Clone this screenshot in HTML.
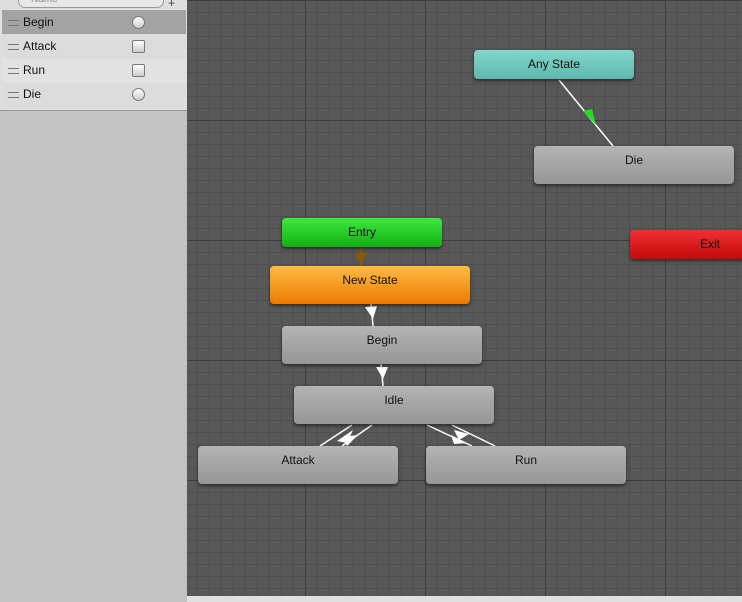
<!DOCTYPE html>
<html><head><style>
body{margin:0;width:742px;height:602px;overflow:hidden;font-family:"Liberation Sans",sans-serif;font-size:12px;position:relative;background:#c2c2c2}
#grid{position:absolute;left:187px;top:0;width:555px;height:596px;background-color:#585858;
background-image:linear-gradient(90deg,#3e3e3e 1px,transparent 1px),linear-gradient(#3e3e3e 1px,transparent 1px),linear-gradient(90deg,#4f4f4f 1px,transparent 1px),linear-gradient(#4f4f4f 1px,transparent 1px);
background-size:120px 120px,120px 120px,12px 12px,12px 12px;background-position:-2px 0,0 0,-2px 0,0 0}
.n{position:absolute;height:38px;border-radius:4px;box-shadow:0 2px 3px rgba(0,0,0,.5);text-align:center;line-height:28px;color:#111;font-size:12px}
.g{background:linear-gradient(#b4b4b4,#969696)}
.row{position:absolute;left:2px;width:184px;height:24px;line-height:24px;font-size:12px;color:#111}
.row span.h{position:absolute;left:6px;top:10px;width:11px;height:4px;border-top:1px solid #777;border-bottom:1px solid #777}
.row .t{position:absolute;left:21px}
.c{position:absolute;left:130px;top:6px;width:11px;height:11px;border:1px solid #777;border-radius:50%;background:linear-gradient(#fff,#ccc)}
.s{position:absolute;left:130px;top:6px;width:11px;height:11px;border:1px solid #777;border-radius:2px;background:linear-gradient(#fff,#ccc)}
</style></head><body>
<div style="position:absolute;left:0;top:0;width:187px;height:110px;background:#dedede;border-bottom:1px solid #999"></div>
<div style="position:absolute;left:18px;top:-8px;width:132px;height:14px;border:1px solid #999;border-radius:7px;background:#e8e8e8;font-size:10px;color:#888;line-height:14px;padding-left:12px">Name</div>
<div style="position:absolute;left:168px;top:-4px;font-size:12px;color:#444">+</div>
<div class="row" style="top:10px;background:#a3a3a3"><span class="h"></span><span class="t">Begin</span><span class="c"></span></div>
<div class="row" style="top:34px;background:#dcdcdc"><span class="h"></span><span class="t">Attack</span><span class="s"></span></div>
<div class="row" style="top:58px;background:#e2e2e2"><span class="h"></span><span class="t">Run</span><span class="s"></span></div>
<div class="row" style="top:82px;background:#dcdcdc"><span class="h"></span><span class="t">Die</span><span class="c"></span></div>
<div id="grid"></div>
<div style="position:absolute;left:187px;top:596px;width:555px;height:6px;background:#e0e0e0"></div>
<svg style="position:absolute;left:0;top:0" width="742" height="602">
<g stroke="#fff" stroke-width="1.5">
<line x1="559" y1="80" x2="613" y2="146"/>
<line x1="371" y1="304" x2="373" y2="326"/>
<line x1="381" y1="364" x2="383" y2="386"/>
<line x1="320" y1="446" x2="352" y2="425"/>
<line x1="342" y1="446" x2="372" y2="425"/>
<line x1="427" y1="425" x2="472" y2="446"/>
<line x1="452" y1="425" x2="495" y2="446"/>
</g>
<line x1="361" y1="246" x2="361" y2="266" stroke="#8a5a00" stroke-width="2"/>
<polygon points="583,111 596,125 592,109" fill="#22dd22"/>
<polygon points="355,253 367,253 361,265" fill="#8a5a00"/>
<polygon points="365,307 377,306 373,319" fill="#fff"/>
<polygon points="376,367 388,367 383,379" fill="#fff"/>
<polygon points="337,441 353,430 347,443" fill="#fff"/>
<polygon points="343,437 358,435 347,446" fill="#fff"/>
<polygon points="451,435 467,443 454,444" fill="#fff"/>
<polygon points="454,430 469,434 459,440" fill="#fff"/>
</svg>
<div class="n" style="left:474px;top:50px;width:160px;height:29px;background:linear-gradient(#82d6cc,#5fb8ad)">Any State</div>
<div class="n g" style="left:534px;top:146px;width:200px">Die</div>
<div class="n" style="left:282px;top:218px;width:160px;height:29px;background:linear-gradient(#3ee83e,#14b014)">Entry</div>
<div class="n" style="left:630px;top:230px;width:160px;height:29px;background:linear-gradient(#ee3030,#c40a0a)">Exit</div>
<div class="n" style="left:270px;top:266px;width:200px;background:linear-gradient(#ffbb44,#ec7a00)">New State</div>
<div class="n g" style="left:282px;top:326px;width:200px">Begin</div>
<div class="n g" style="left:294px;top:386px;width:200px">Idle</div>
<div class="n g" style="left:198px;top:446px;width:200px">Attack</div>
<div class="n g" style="left:426px;top:446px;width:200px">Run</div>
</body></html>
